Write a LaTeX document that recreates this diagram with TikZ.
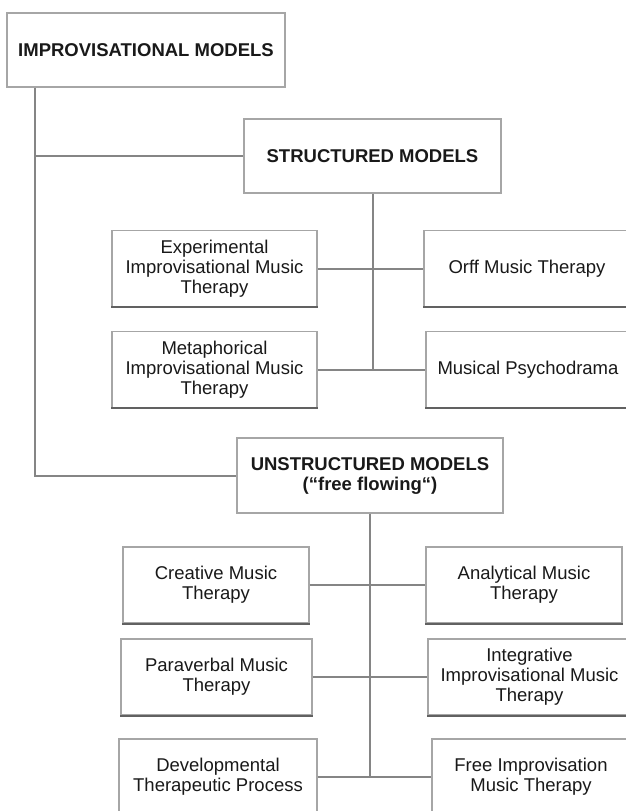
\documentclass[tikz,border=0pt]{standalone}
\usepackage{fontspec}
\setmainfont{Liberation Sans}
\usepackage{tikz}
\usepackage{xcolor}
\usetikzlibrary{positioning, calc}

\tikzset{
  headbox/.style={draw=black!35, fill=white, line width=1.2pt, minimum height=74pt,
    align=center, text=black!90, font=\bfseries\fontsize{18.5}{20}\selectfont},
  leafbox/.style={draw=black!35, fill=white, line width=1.2pt, minimum height=76pt,
    align=center, text=black!90, font=\fontsize{18.5}{20}\selectfont,
    append after command={(\tikzlastnode.south west) edge[shadowline] (\tikzlastnode.south east)}},
  shadowline/.style={draw=black!62, line width=2.2pt},
  link/.style={draw=black!48, line width=2pt}
}

\begin{document}
\begin{tikzpicture}[x=1pt, y=-1pt]
\path[use as bounding box, clip] (0,0) rectangle (626,811);
\fill[white] (0,0) rectangle (626,811);

% Main headings
\node[headbox, minimum width=278pt] (improv) at (146,50) {IMPROVISATIONAL MODELS};
\node[headbox, minimum width=257pt] (struct) at (372.5,156) {STRUCTURED MODELS};
\node[headbox, minimum width=266pt, minimum height=75pt] (unstruct) at (370,475.5) {UNSTRUCTURED MODELS\\(“free flowing“)};

% Structured models
\foreach \nm/\x/\y/\w/\txt in {
    exper/214.5/268.5/205/{Experimental\\Improvisational Music\\Therapy},
    orff/527/268.5/206/{Orff Music Therapy},
    meta/214.5/369.5/205/{Metaphorical\\Improvisational Music\\Therapy},
    psycho/528/369.5/204/{Musical Psychodrama}} {
    \node[leafbox, minimum width=\w pt] (\nm) at (\x,\y) {\txt};
}

% Unstructured models
\foreach \nm/\x/\y/\w/\txt in {
    creative/216/585/186/{Creative Music\\Therapy},
    analytic/524/585/196/{Analytical Music\\Therapy},
    paraverbal/216.5/677/191/{Paraverbal Music\\Therapy},
    integr/529.5/677/203/{Integrative\\Improvisational Music\\Therapy},
    develop/218/777/198/{Developmental\\Therapeutic Process},
    freeimp/531/777/198/{Free Improvisation\\Music Therapy}} {
    \node[leafbox, minimum width=\w pt] (\nm) at (\x,\y) {\txt};
}

% Trunk
\coordinate (spine) at ([xshift=29pt]improv.south west);
\draw[link] (spine) |- (unstruct.west);
\draw[link] (spine |- struct.west) -- (struct.west);

% Stems
\draw[link] (struct.south) -- (struct.south |- psycho.west);
\draw[link] (unstruct.south) -- (unstruct.south |- freeimp.west);

% Branches
\foreach \a/\b in {exper/orff, meta/psycho, creative/analytic, paraverbal/integr, develop/freeimp}
    \draw[link] (\a.east) -- (\b.west);
\end{tikzpicture}
\end{document}
